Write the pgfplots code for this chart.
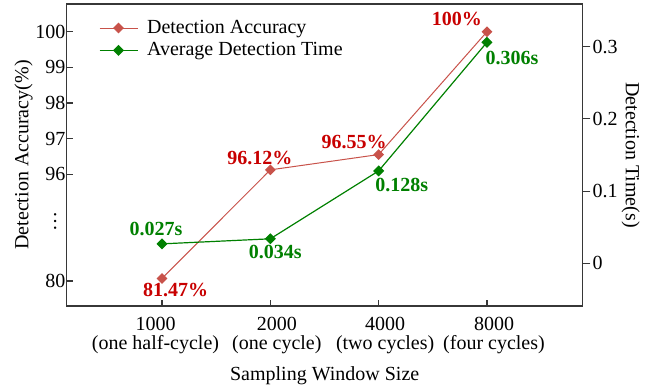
\documentclass[border=0pt]{standalone}
\usepackage{fontspec}
\setmainfont{Liberation Serif}
\usepackage{pgfplots}
\usepackage{pgfplotstable}
\pgfplotsset{compat=1.18}

\definecolor{accline}{RGB}{200,82,74}
\definecolor{acctext}{RGB}{200,0,0}
\definecolor{timeline}{RGB}{0,128,0}
\definecolor{frame}{RGB}{55,55,55}

% accuracy (%) per window size, with label offsets (pt)
\pgfplotstableread{
x y dx dy lab
0 81.47 6.75 -5.75 81.47
1 96.12 -5.25 5.75 96.12
2 96.55 -12.25 6.5 96.55
3 100 -15 6.5 100
}\accdata

% average detection time (s) per window size, with label offsets (pt)
\pgfplotstableread{
x y dx dy lab
0 0.027 -3 7.25 0.027
1 0.034 2.5 -6.7 0.034
2 0.128 11.5 -7.25 0.128
3 0.306 12.5 -8 0.306
}\timedata

\pgfplotsset{
  base/.style={
    scale only axis, width=258pt, height=151pt,
    xmin=-0.88, xmax=3.884,
    clip=false,
    axis line style={frame, line width=0.65pt},
    every tick/.style={frame, line width=0.6pt},
    tick label style={font=\fontsize{10}{11}\selectfont},
    label style={font=\fontsize{10}{11}\selectfont},
    /pgf/number format/assume math mode=true,
  },
}

\begin{document}
\begin{tikzpicture}
\begin{axis}[base, name=main,
  ymin=92.295, ymax=100.78,
  xtick={0,1,2,3},
  xticklabels={},
  % window-size labels, set slightly off their tick marks
  extra x ticks={-0.06,1.06,2.06,3.065},
  extra x tick labels={{1000\\(one half-cycle)},{2000\\(one cycle)},{4000\\(two cycles)},{8000\\(four cycles)}},
  extra x tick style={major tick length=0pt,
    xticklabel style={align=center, font=\fontsize{10}{9.5}\selectfont, yshift=-2pt}},
  xtick pos=bottom, ytick pos=left,
  tick align=inside, major tick length=3pt,
  ytick={93,96,97,98,99,100},
  yticklabels={80,96,97,98,99,100},
  yticklabel style={inner xsep=0.5pt},
  extra y ticks={94.66},
  extra y tick labels={\makebox[1em]{\rotatebox{90}{…}}},
  extra y tick style={major tick length=0pt},
  every axis x label/.style={at={(rel axis cs:0.5,0)}, yshift=-35pt, anchor=center},
  xlabel={Sampling Window Size},
  every axis y label/.style={at={(rel axis cs:0,0.5)}, xshift=-21.5pt, rotate=90, anchor=center},
  ylabel={Detection Accuracy(\%)},
  legend style={draw=none, fill=none, at={(0.05,0.975)}, anchor=north west,
    font=\fontsize{10}{12}\selectfont, row sep=-1pt},
  legend cell align=left,
  legend image code/.code={
    \draw[mark repeat=2, mark phase=2] plot coordinates {(0pt,0pt) (9.5pt,0pt) (19pt,0pt)};
    \path (21.5pt,0pt);},
]
\addplot[accline, line width=0.5pt, mark=square*, mark size=1.65pt,
  mark options={rotate=45, solid, fill=accline},
  y filter/.expression={y<90 ? 93+(y-80)*0.048 : y},
  point meta=explicit symbolic,
  visualization depends on={\thisrow{dx} \as \dx},
  visualization depends on={\thisrow{dy} \as \dy},
  nodes near coords={\pgfplotspointmeta\%},
  every node near coord/.append style={anchor=center, xshift=\dx pt, yshift=\dy pt,
    text=acctext, font=\bfseries\fontsize{10}{12}\selectfont},
] table[x=x, y=y, meta=lab] {\accdata};
\addlegendentry{Detection Accuracy}
\addlegendimage{timeline, line width=0.6pt, mark=square*, mark size=1.65pt,
  mark options={rotate=45, solid, fill=timeline}}
\addlegendentry{Average Detection Time}
\end{axis}

\begin{axis}[base,
  ymin=-0.059, ymax=0.359,
  axis y line*=right, axis x line=none,
  ytick={0,0.1,0.2,0.3},
  tick align=outside, major tick length=3.8pt,
  yticklabel style={/pgf/number format/fixed, inner xsep=1pt},
  every axis y label/.style={at={(rel axis cs:1,0.5)}, xshift=24pt, rotate=-90, anchor=center},
  ylabel={Detection Time(s)},
]
\addplot[timeline, line width=0.6pt, mark=square*, mark size=1.65pt,
  mark options={rotate=45, solid, fill=timeline},
  point meta=explicit symbolic,
  visualization depends on={\thisrow{dx} \as \dx},
  visualization depends on={\thisrow{dy} \as \dy},
  nodes near coords={\pgfplotspointmeta s},
  every node near coord/.append style={anchor=center, xshift=\dx pt, yshift=\dy pt,
    text=timeline, font=\bfseries\fontsize{10}{12}\selectfont},
] table[x=x, y=y, meta=lab] {\timedata};
\end{axis}

% page margins around the plot frame
\pgfresetboundingbox
\useasboundingbox ([xshift=-33.35pt, yshift=-40pt]main.south west)
  rectangle ([xshift=37.15pt, yshift=2pt]main.north east);
\end{tikzpicture}
\end{document}
